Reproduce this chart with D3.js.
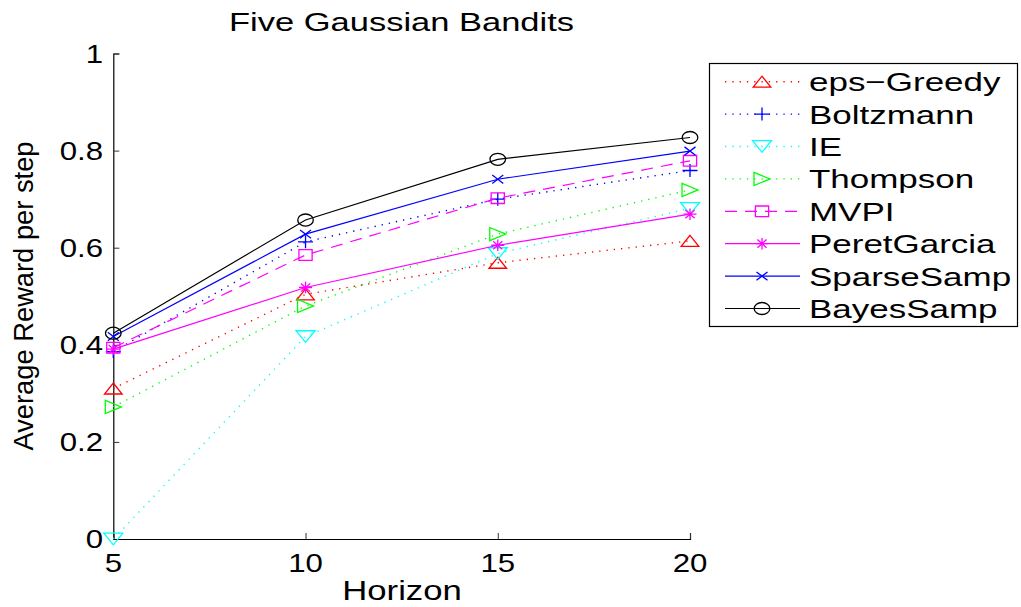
<!DOCTYPE html>
<html>
<head>
<meta charset="utf-8">
<script src="https://cdn.jsdelivr.net/npm/d3@7"></script>
<style>
  html, body { margin: 0; padding: 0; background: #fff; }
  svg { display: block; font-family: "Liberation Sans", Arial, Helvetica, sans-serif; }
</style>
</head>
<body>
<svg id="chart" width="1021" height="607"></svg>
<script>
// Horizon values on the x axis
const horizons = [5, 10, 15, 20];

// Average reward per step for each method
const epsGreedy   = [0.310, 0.504, 0.569, 0.614];
const boltzmann   = [0.386, 0.612, 0.700, 0.759];
const ie          = [0.000, 0.417, 0.588, 0.681];
const thompson    = [0.272, 0.480, 0.628, 0.719];
const mvpi        = [0.394, 0.585, 0.702, 0.779];
const peretGarcia = [0.391, 0.518, 0.605, 0.669];
const sparseSamp  = [0.417, 0.628, 0.741, 0.799];
const bayesSamp   = [0.424, 0.657, 0.782, 0.827];

const seriesNames = ["eps\u2212Greedy", "Boltzmann", "IE", "Thompson", "MVPI", "PeretGarcia", "SparseSamp", "BayesSamp"];
const seriesValues = [epsGreedy, boltzmann, ie, thompson, mvpi, peretGarcia, sparseSamp, bayesSamp];

// Tick values
const xTicks = [5, 10, 15, 20];
const yTicks = [0, 0.2, 0.4, 0.6, 0.8, 1];

const chartTitle = "Five Gaussian Bandits";
const xLabel = "Horizon";
const yLabel = "Average Reward per step";

// Line and marker styles per series
const styles = [
  { color: "#ff0000", dash: "1.3,6",  marker: "tri-up" },
  { color: "#0000ff", dash: "1.3,6",  marker: "plus" },
  { color: "#00ffff", dash: "1.3,6",  marker: "tri-down" },
  { color: "#00ff00", dash: "1.3,6",  marker: "tri-right" },
  { color: "#ff00ff", dash: "12,8",   marker: "square" },
  { color: "#ff00ff", dash: null,     marker: "star" },
  { color: "#0000ff", dash: null,     marker: "cross" },
  { color: "#000000", dash: null,     marker: "circle" }
];

const svg = d3.select("#chart");

const x = d3.scaleLinear().domain([5, 20]).range([113.3, 690]);
const y = d3.scaleLinear().domain([0, 1]).range([539, 53.5]);

// Marker shapes (outline only), sized as drawn
function markerPath(type) {
  switch (type) {
    case "tri-up":    return "M0,-5.5L8.8,5.5L-8.8,5.5Z";
    case "tri-down":  return "M-9.5,-5.8L9.5,-5.8L0,5.8Z";
    case "tri-right": return "M-8,-6.6L8,0L-8,6.6Z";
    case "square":    return "M-6.6,-5.3H6.6V5.3H-6.6Z";
    case "plus":      return "M-7.5,0H7.5M0,-6.5V6.5";
    case "cross":     return "M-5.5,-4.2L5.5,4.2M-5.5,4.2L5.5,-4.2";
    case "star":      return "M-6.5,0H6.5M0,-5.8V5.8M-4.6,-4.1L4.6,4.1M-4.6,4.1L4.6,-4.1";
    case "circle":    return "M-7.8,0A7.8,6 0 1,0 7.8,0A7.8,6 0 1,0 -7.8,0Z";
  }
}

function drawMarker(g, type, cx, cy, color) {
  g.append("path")
    .attr("d", markerPath(type))
    .attr("transform", `translate(${cx},${cy})`)
    .attr("fill", "none")
    .attr("stroke", color)
    .attr("stroke-width", 1.3);
}

// Text drawn with a horizontal stretch
function stretchedText(g, str, tx, ty, size, sx, anchor) {
  return g.append("text")
    .attr("transform", `translate(${tx},${ty}) scale(${sx},1)`)
    .attr("text-anchor", anchor)
    .attr("font-size", size)
    .attr("fill", "#000")
    .text(str);
}

// Axes (ticks point into the plot)
const yAxis = d3.axisLeft(y).tickValues(yTicks).tickSize(-6).tickFormat("");
const xAxis = d3.axisBottom(x).tickValues(xTicks).tickSize(-6).tickFormat("");

const yAxisG = svg.append("g").attr("transform", `translate(${x.range()[0]},0)`).call(yAxis);
const xAxisG = svg.append("g").attr("transform", `translate(0,${y.range()[0]})`).call(xAxis);
[yAxisG, xAxisG].forEach(g => {
  g.select(".domain").attr("stroke", "#000").attr("stroke-width", 1.2);
  g.selectAll(".tick line").attr("stroke", "#333").attr("stroke-width", 1);
});

// Tick labels
const tickLabels = svg.append("g");
yTicks.forEach(v => stretchedText(tickLabels, String(v), 103, y(v) + 9.3, 26, 1.2, "end"));
xTicks.forEach(v => stretchedText(tickLabels, String(v), x(v), 572, 26, 1.2, "middle"));

// Title and axis labels
stretchedText(svg, chartTitle, 401.5, 31, 25, 1.38, "middle");
stretchedText(svg, xLabel, 402, 600, 28, 1.24, "middle");
svg.append("text")
  .attr("transform", "translate(33,296) rotate(-90)")
  .attr("text-anchor", "middle")
  .attr("font-size", 27.3)
  .attr("fill", "#000")
  .text(yLabel);

// Series lines and markers
const line = d3.line().x(d => x(d[0])).y(d => y(d[1]));
const plotG = svg.append("g");
seriesValues.forEach((vals, i) => {
  const st = styles[i];
  const pts = horizons.map((h, j) => [h, vals[j]]);
  const g = plotG.append("g");
  g.append("path")
    .attr("d", line(pts))
    .attr("fill", "none")
    .attr("stroke", st.color)
    .attr("stroke-width", st.dash === "1.3,6" ? 1.4 : 1.2)
    .attr("stroke-dasharray", st.dash);
  pts.forEach(p => drawMarker(g, st.marker, x(p[0]), y(p[1]), st.color));
});

// Legend
const legend = svg.append("g");
legend.append("rect")
  .attr("x", 709.5).attr("y", 63.5)
  .attr("width", 308).attr("height", 263)
  .attr("fill", "#fff")
  .attr("stroke", "#000")
  .attr("stroke-width", 1.2);

seriesNames.forEach((name, i) => {
  const st = styles[i];
  const cy = 81.7 + i * 32.4;
  legend.append("line")
    .attr("x1", 725).attr("x2", 800)
    .attr("y1", cy).attr("y2", cy)
    .attr("stroke", st.color)
    .attr("stroke-width", st.dash === "1.3,6" ? 1.4 : 1.2)
    .attr("stroke-dasharray", st.dash);
  drawMarker(legend, st.marker, 762, cy, st.color);
  stretchedText(legend, name, 809, cy + 9.5, 26.5, 1.32, "start");
});
</script>
</body>
</html>
